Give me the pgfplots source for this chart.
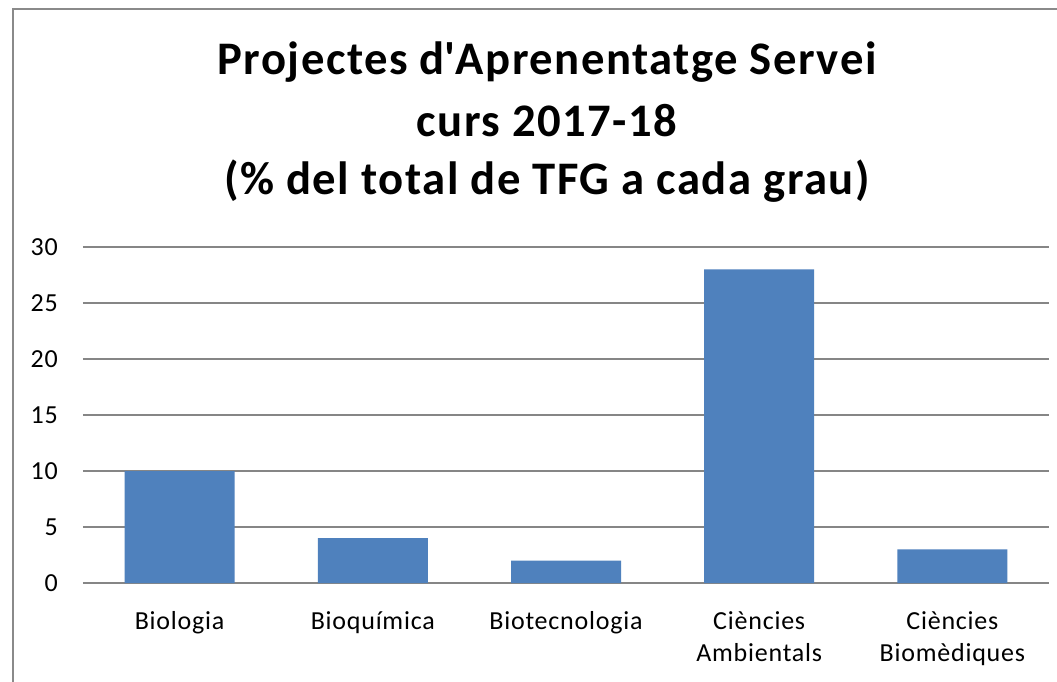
\documentclass[border=0pt]{standalone}
\usepackage{fontspec}
\setmainfont{Carlito}
\newfontfamily\titlefont{Carlito}[LetterSpace=3.2]
\newfontfamily\tickfont{Carlito}[LetterSpace=3]
\usepackage{pgfplots}
\pgfplotsset{compat=1.18}
\definecolor{barblue}{HTML}{4F81BD}
\definecolor{gridgray}{HTML}{868686}
\definecolor{framegray}{HTML}{8A8A8A}
\begin{document}
\begin{tikzpicture}
\useasboundingbox (-62.25pt,-74.25pt) rectangle (730.5pt,437.25pt);
\fill[white] (-62.25pt,-74.25pt) rectangle (730.5pt,437.25pt);
\begin{axis}[
  at={(0,0)}, anchor=south west,
  width=724.5pt, height=252pt, scale only axis,
  xmin=-0.5, xmax=4.5, ymin=0, ymax=30,
  xtick={0,1,2,3,4},
  xticklabels={Biologia, Bioquímica, Biotecnologia, {Ciències\\Ambientals}, {Ciències\\Biomèdiques}},
  xticklabel style={align=center, anchor=north, inner sep=0pt, yshift=-21pt, font=\fontsize{19.5}{24}\tickfont},
  ytick={0,5,10,15,20,25,30},
  yticklabel style={anchor=east, inner sep=0pt, xshift=-18.75pt, font=\fontsize{19.5}{24}\tickfont},
  /pgf/number format/assume math mode=true,
  ymajorgrids, grid style={draw=gridgray, line width=1pt},
  axis line style={draw=none}, major tick length=0pt,
  ybar, bar width=82.5pt,
]
\addplot[fill=barblue, draw=none] coordinates {(0,10) (1,4) (2,2) (3,28) (4,3)};
\end{axis}
\draw[framegray, line width=1.5pt] (-52.5pt,-80pt) -- (-52.5pt,430.5pt) -- (740pt,430.5pt);
\node[anchor=base, inner sep=0pt, font=\fontsize{35}{40}\titlefont\bfseries] at (348pt,381pt) {Projectes d\textquotesingle Aprenentatge Servei};
\node[anchor=base, inner sep=0pt, font=\fontsize{35}{40}\titlefont\bfseries] at (348pt,334.5pt) {curs 2017-18};
\node[anchor=base, inner sep=0pt, font=\fontsize{35}{40}\titlefont\bfseries] at (348pt,291pt) {(\% del total de TFG a cada grau)};
\end{tikzpicture}
\end{document}
